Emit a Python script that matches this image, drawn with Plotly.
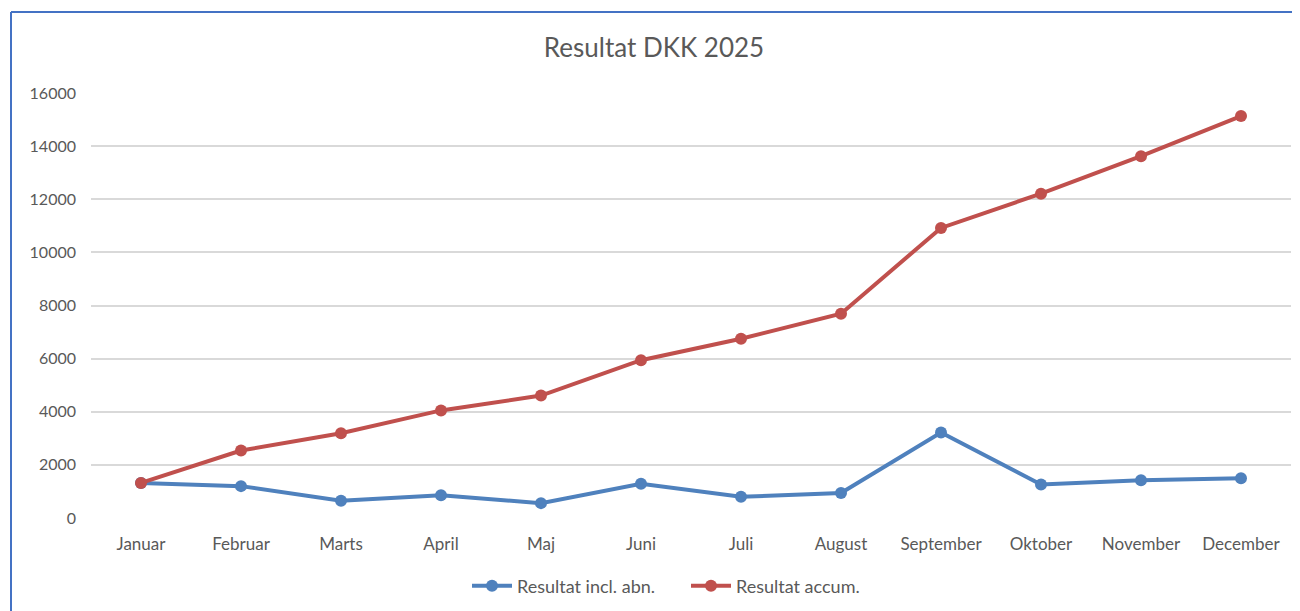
import plotly.graph_objects as go

months = ["Januar", "Februar", "Marts", "April", "Maj", "Juni", "Juli",
          "August", "September", "Oktober", "November", "December"]
resultat_incl_abn = [1320, 1200, 650, 860, 560, 1290, 800, 940, 3220, 1260, 1420, 1500]
resultat_accum = [1320, 2540, 3190, 4050, 4610, 5940, 6750, 7690, 10920, 12210, 13620, 15130]
y_ticks = [0, 2000, 4000, 6000, 8000, 10000, 12000, 14000, 16000]

font_family = "Lato, Open Sans, sans-serif"
text_color = "#595959"

W, H = 1292, 603
L, T, R, B = 83, 85, 9, 93
PW, PH = W - L - R, H - T - B

fig = go.Figure()
fig.add_trace(go.Scatter(
    x=months, y=resultat_incl_abn, name="Resultat incl. abn.",
    mode="lines+markers",
    line=dict(color="#4F81BD", width=4),
    marker=dict(color="#4F81BD", size=12),
))
fig.add_trace(go.Scatter(
    x=months, y=resultat_accum, name="Resultat accum.",
    mode="lines+markers",
    line=dict(color="#C0504D", width=4),
    marker=dict(color="#C0504D", size=12),
))

fig.update_layout(
    width=W, height=H,
    margin=dict(l=L, r=R, t=T, b=B, autoexpand=False),
    paper_bgcolor="white", plot_bgcolor="white",
    font=dict(family=font_family, color=text_color, size=18),
    title=dict(text="Resultat DKK 2025", x=0.5, xanchor="center",
               y=1 - 40 / H, yanchor="middle",
               font=dict(size=26, color=text_color, family=font_family)),
    showlegend=True,
    legend=dict(orientation="h", x=0.5 - 5 / PW, xanchor="center",
                y=-(578 - (H - B)) / PH, yanchor="middle",
                font=dict(size=18, color=text_color), itemwidth=40,
                entrywidth=164, entrywidthmode="pixels"),
    xaxis=dict(range=[-0.5, 11.5], showgrid=False, showline=False, zeroline=False,
               ticks="", ticklabelstandoff=14, tickfont=dict(size=17, color=text_color)),
    yaxis=dict(range=[0, 16000], tickvals=y_ticks, ticktext=[str(v) for v in y_ticks],
               showgrid=True, gridcolor="#D9D9D9", gridwidth=1.5, zeroline=False,
               showline=False, ticks="", ticklen=0, ticklabelstandoff=14,
               tickfont=dict(size=16, color=text_color)),
    shapes=[
        dict(type="line", xref="paper", yref="paper",
             x0=(3 - L) / PW, x1=(3 - L) / PW, y0=-0.5, y1=(H - B - 4) / PH,
             line=dict(color="#4472C4", width=2), layer="below"),
        dict(type="line", xref="paper", yref="paper",
             x0=(3 - L) / PW, x1=1.2, y0=(H - B - 4) / PH, y1=(H - B - 4) / PH,
             line=dict(color="#4472C4", width=2), layer="below"),
    ],
)

fig.write_html("out.html")
